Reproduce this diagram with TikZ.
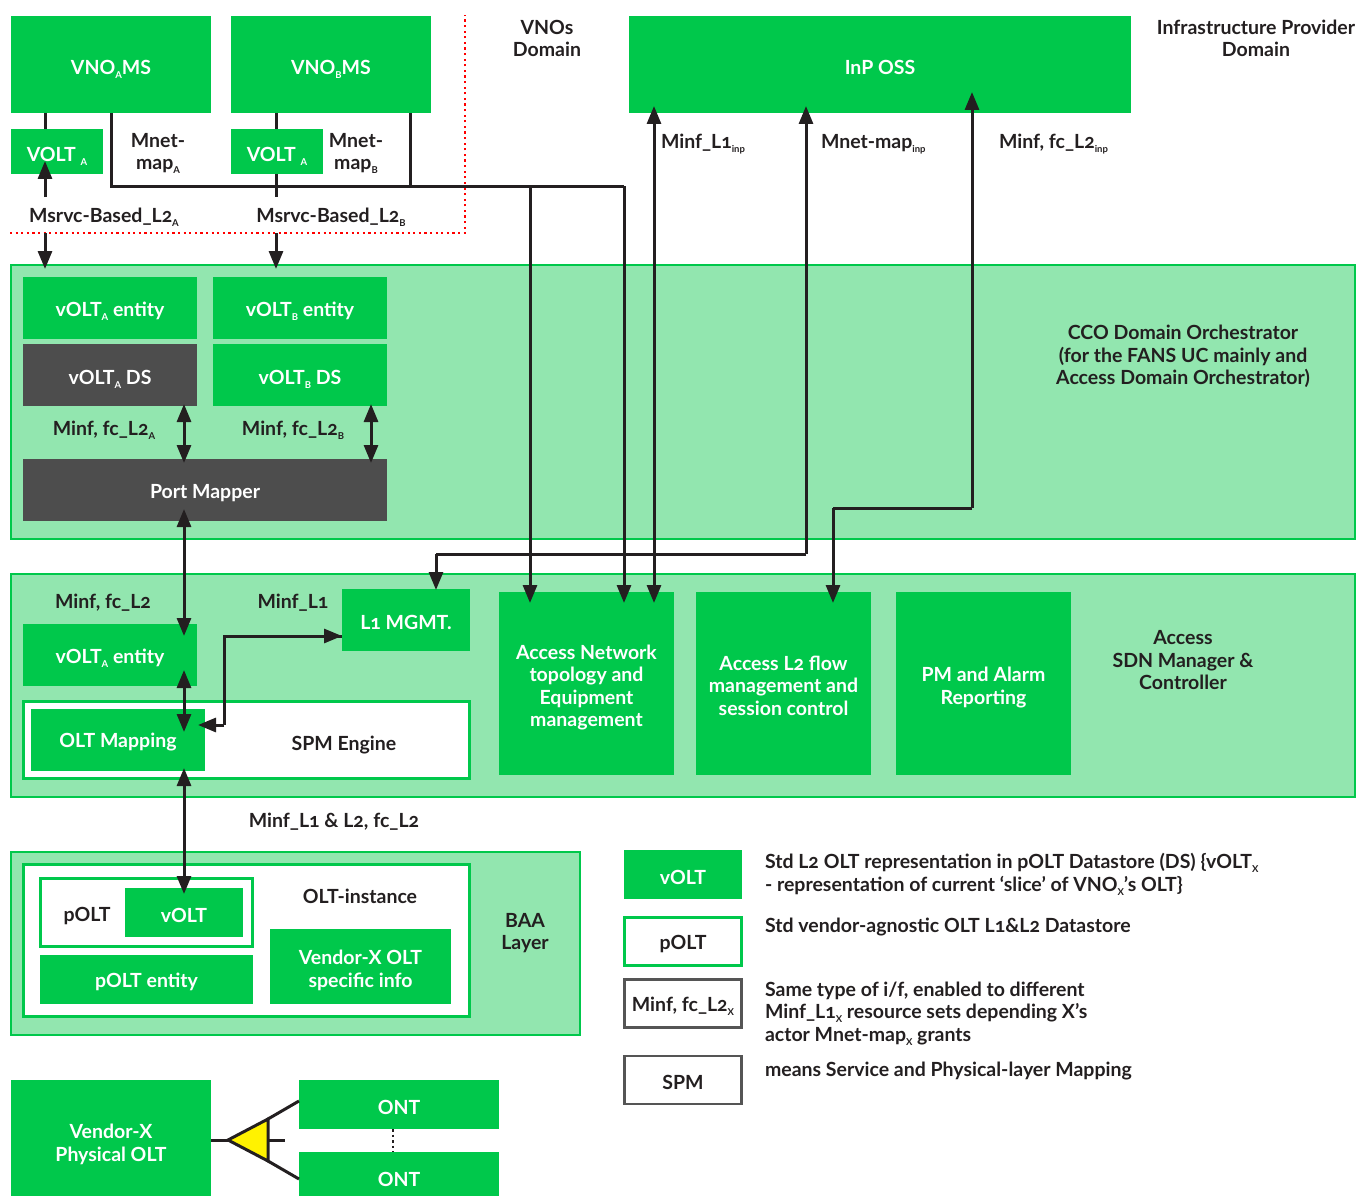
\documentclass[tikz,border=0pt]{standalone}
\usepackage{fontspec}
\setmainfont{Lato}[Numbers=OldStyle]
\usetikzlibrary{arrows.meta,calc}
\definecolor{gr}{HTML}{00C84B}
\definecolor{lg}{HTML}{92E6AF}
\definecolor{dk}{HTML}{4D4D4D}
\definecolor{ink}{HTML}{231F20}
\definecolor{bord}{HTML}{555555}
\newcommand\sbs[1]{\smash{\raisebox{-4pt}{\fontsize{9.5}{9.5}\selectfont #1}}}
\newcommand\mlt[1]{\raisebox{-0.7pt}{\smash{\begin{tabular}{@{}c@{}}#1\end{tabular}}}}
\tikzset{
  x=1pt,y=-1pt,
  base/.style={anchor=north west,inner sep=0pt,outer sep=0pt,align=center,font=\bfseries\fontsize{19.5}{22.5}\selectfont,execute at begin node={\rule{0pt}{19.5pt}}},
  gbox/.style={base,fill=gr,text=white},
  dbox/.style={base,fill=dk,text=white},
  band/.style={base,fill=lg,draw=gr,line width=2pt},
  wbox/.style={base,fill=white,draw=gr,line width=2.5pt,text=ink},
  kbox/.style={base,fill=white,draw=bord,line width=2.5pt,text=ink},
  lbl/.style={inner sep=0pt,outer sep=0pt,align=center,text=ink,font=\bfseries\fontsize{19.5}{22.5}\selectfont},
  lleft/.style={lbl,align=left,anchor=west},
  wire/.style={draw=ink,line width=3pt},
  arr/.style={wire,-{Triangle[length=18pt,width=14pt]}},
  darr/.style={wire,{Triangle[length=18pt,width=14pt]}-{Triangle[length=18pt,width=14pt]}},
  reddot/.style={draw=red,line width=2.2pt,dash pattern=on 2.2pt off 3.4pt},
}
\begin{document}
\begin{tikzpicture}
\useasboundingbox (0,0) rectangle (1358,1196);
% bands
\node[band,minimum width=1344pt,minimum height=274pt] (cco) at (11,265) {};
\node[band,minimum width=1344pt,minimum height=223pt] (sdn) at (11,574) {};
\node[band,minimum width=569pt,minimum height=183pt] (baa) at (11,852) {};
% top
\node[gbox,minimum width=200pt,minimum height=97pt] (vnoa) at (11,16) {VNO\sbs{A}MS};
\node[gbox,minimum width=200pt,minimum height=97pt] (vnob) at (231,16) {VNO\sbs{B}MS};
\node[gbox,minimum width=502pt,minimum height=97pt] (inp) at (629,16) {InP OSS};
\node[gbox,minimum width=92pt,minimum height=45pt] (volta) at (11,129) {VOLT \sbs{A}};
\node[gbox,minimum width=92pt,minimum height=45pt] (voltb) at (231,129) {VOLT \sbs{A}};
% CCO contents
\node[gbox,minimum width=174pt,minimum height=62pt] (enta) at (23,277) {vOLT\sbs{A} entity};
\node[gbox,minimum width=174pt,minimum height=62pt] (entb) at (213,277) {vOLT\sbs{B} entity};
\node[dbox,minimum width=174pt,minimum height=62pt] (dsa) at (23,344) {vOLT\sbs{A} DS};
\node[gbox,minimum width=174pt,minimum height=62pt] (dsb) at (213,344) {vOLT\sbs{B} DS};
\node[dbox,minimum width=364pt,minimum height=62pt] (pm) at (23,459) {Port Mapper};
% SDN contents
\node[gbox,minimum width=174pt,minimum height=62pt] (sent) at (23,624) {vOLT\sbs{A} entity};
\node[wbox,minimum width=446pt,minimum height=77pt] (spm) at (23.5,701.5) {};
\node[gbox,minimum width=174pt,minimum height=62pt] (map) at (31,709) {OLT Mapping};
\node[gbox,minimum width=128pt,minimum height=62pt] (l1) at (342,589) {L1 MGMT.};
\node[gbox,minimum width=175pt,minimum height=183pt] (topo) at (499,592) {\mlt{Access Network\\topology and\\Equipment\\management}};
\node[gbox,minimum width=175pt,minimum height=183pt] (flow) at (696,592) {\mlt{Access L2 flow\\management and\\session control}};
\node[gbox,minimum width=175pt,minimum height=183pt] (pmr) at (896,592) {\mlt{PM and Alarm\\Reporting}};
% BAA contents
\node[wbox,minimum width=446pt,minimum height=152pt] (inst) at (23.5,864.5) {};
\node[wbox,minimum width=212pt,minimum height=68pt] (polt) at (40.5,878.5) {};
\node[gbox,minimum width=118pt,minimum height=49pt] (pv) at (125,888) {vOLT};
\node[gbox,minimum width=213pt,minimum height=49pt] (pent) at (40,955) {pOLT entity};
\node[gbox,minimum width=181pt,minimum height=75pt] (vx) at (270,929) {\mlt{Vendor-X OLT\\specific info}};
% physical
\node[gbox,minimum width=200pt,minimum height=121pt] (phy) at (11,1080) {\mlt{Vendor-X\\Physical OLT}};
\node[gbox,minimum width=200pt,minimum height=49pt] (ont1) at (299,1080) {ONT};
\node[gbox,minimum width=200pt,minimum height=49pt] (ont2) at (299,1152) {ONT};
% legend
\node[gbox,minimum width=118pt,minimum height=49pt] (lg1) at (624,850) {vOLT};
\node[wbox,minimum width=117pt,minimum height=48pt] (lg2) at (624.5,917.5) {pOLT};
\node[kbox,minimum width=117pt,minimum height=48pt] (lg3) at (624.5,979.5) {Minf, fc\_L2\sbs{X}};
\node[kbox,minimum width=117pt,minimum height=48pt] (lg4) at (624.5,1056) {SPM};
% labels
\node[lbl] (t1) at (547,38.5) {VNOs\\Domain};
\node[lbl] (t2) at (1256,38.5) {Infrastructure Provider\\Domain};
\node[lbl] (t3) at (158,153) {Mnet-\\map\sbs{A}};
\node[lbl] (t4) at (356,153) {Mnet-\\map\sbs{B}};
\node[lbl] (t5) at (104,217) {Msrvc-Based\_L2\sbs{A}};
\node[lbl] (t6) at (331,217) {Msrvc-Based\_L2\sbs{B}};
\node[lleft] (t7) at (661,143) {Minf\_L1\sbs{inp}};
\node[lleft] (t8) at (821,143) {Mnet-map\sbs{inp}};
\node[lleft] (t9) at (999,143) {Minf, fc\_L2\sbs{inp}};
\node[lbl] (t10) at (1183,356.5) {CCO Domain Orchestrator\\(for the FANS UC mainly and\\Access Domain Orchestrator)};
\node[lbl] (t11) at (104,430) {Minf, fc\_L2\sbs{A}};
\node[lbl] (t12) at (293,430) {Minf, fc\_L2\sbs{B}};
\node[lbl] (t13) at (103,603) {Minf, fc\_L2};
\node[lbl] (t14) at (293,603) {Minf\_L1};
\node[lbl] (t15) at (1183,660.5) {Access\\SDN Manager \&\\Controller};
\node[lbl] (t16) at (344,745) {SPM Engine};
\node[lbl] (t17) at (334,822) {Minf\_L1 \& L2, fc\_L2};
\node[lbl] (t18) at (360,896) {OLT-instance};
\node[lbl] (t19) at (87,916) {pOLT};
\node[lbl] (t20) at (525,933) {BAA\\Layer};
\node[lleft] (t21) at (765,874) {Std L2 OLT representation in pOLT Datastore (DS) \{vOLT\sbs{X}\\- representation of current ‘slice’ of VNO\sbs{X}’s OLT\}};
\node[lleft] (t22) at (765,927) {Std vendor-agnostic OLT L1\&L2 Datastore};
\node[lleft] (t23) at (765,1013.5) {Same type of i/f, enabled to different\\Minf\_L1\sbs{X} resource sets depending X’s\\actor Mnet-map\sbs{X} grants};
\node[lleft] (t24) at (765,1071) {means Service and Physical-layer Mapping};
% splitter
\coordinate (stip) at (228,1140);
\coordinate (stop) at (268,1119);
\coordinate (sbot) at (268,1161);
\coordinate (sout) at (285,1140);
\coordinate (smid) at (268,1140);
\coordinate (o1) at (299,1101);
\coordinate (o2) at (299,1179);
\draw[wire] (phy.east |- stip) -- (stip);
\draw[wire,fill=yellow,line join=miter] (stip) -- (stop) -- (sbot) -- cycle;
\draw[wire] (smid) -- (sout);
\draw[wire] (stop) -- (o1);
\draw[wire] (sbot) -- (o2);
\coordinate (dotx) at (393,1140);
\draw[draw=ink,line width=2.5pt,dash pattern=on 2.5pt off 3pt] (ont1.south -| dotx) -- (ont2.north -| dotx);
% domain border
\coordinate (r1) at (10,233);
\coordinate (r2) at (465,233);
\coordinate (r3) at (465,15);
\draw[reddot] (r1) -- (r2) -- (r3);
% VNO wires
\coordinate (xa) at (45,197);
\coordinate (xb) at (276,197);
\coordinate (la) at (45,233);
\coordinate (lb) at (276,233);
\draw[wire] (vnoa.south -| xa) -- (volta.north -| xa);
\draw[wire] (vnob.south -| xb) -- (voltb.north -| xb);
\draw[arr,shorten >=-13pt] (xa) -- (volta.south -| xa);
\draw[wire] (voltb.south -| xb) -- (xb);
\draw[arr,shorten >=-4pt] (la) -- (cco.north -| la);
\draw[arr,shorten >=-4pt] (lb) -- (cco.north -| lb);
% Mnet-map wires
\coordinate (ma) at (111,186.5);
\coordinate (mb) at (410,186.5);
\coordinate (m1) at (530,186.5);
\coordinate (m2) at (624,186.5);
\draw[wire,line join=miter] (vnoa.south -| ma) -- (ma) -- (m2);
\draw[wire] (vnob.south -| mb) -- (mb);
\draw[arr,shorten >=-11pt] (m1) -- (topo.north -| m1);
\draw[arr,shorten >=-11pt] (m2) -- (topo.north -| m2);
% InP wires
\coordinate (i1) at (654,300);
\coordinate (i2) at (806,554);
\coordinate (i2b) at (436,554);
\coordinate (i3) at (972,508);
\coordinate (i3b) at (833,508);
\draw[darr,shorten <=-7pt,shorten >=-11pt] (inp.south -| i1) -- (topo.north -| i1);
\draw[arr,shorten >=-7pt] (i2) -- (inp.south -| i2);
\draw[wire] (i2) -- (i2b);
\draw[arr,shorten >=-1pt] (i2b) -- (l1.north -| i2b);
\draw[arr,shorten >=-21pt] (i3) -- (inp.south -| i3);
\draw[wire] (i3) -- (i3b);
\draw[arr,shorten >=-11pt] (i3b) -- (flow.north -| i3b);
% CCO wires
\coordinate (xc) at (184,430);
\coordinate (xd) at (371,430);
\draw[darr,shorten <=-2pt,shorten >=-4pt] (dsa.south -| xc) -- (pm.north -| xc);
\draw[darr,shorten <=-2pt,shorten >=-4pt] (dsb.south -| xd) -- (pm.north -| xd);
\draw[darr,shorten <=-12pt,shorten >=-12pt] (pm.south -| xc) -- (sent.north -| xc);
% SDN wires
\draw[darr,shorten <=-16pt,shorten >=-23pt] (sent.south -| xc) -- (map.north -| xc);
\draw[darr,shorten <=-3pt,shorten >=-6pt] (map.south -| xc) -- (pv.north -| xc);
\coordinate (kx) at (224,636);
\coordinate (ky) at (224,725);
\draw[wire,line join=miter] (l1.west |- kx) -- (kx) -- (ky);
\draw[arr,shorten >=-7pt] (ky) -- (map.east |- ky);
\draw[arr] (kx) -- (l1.west |- kx);
\end{tikzpicture}
\end{document}
